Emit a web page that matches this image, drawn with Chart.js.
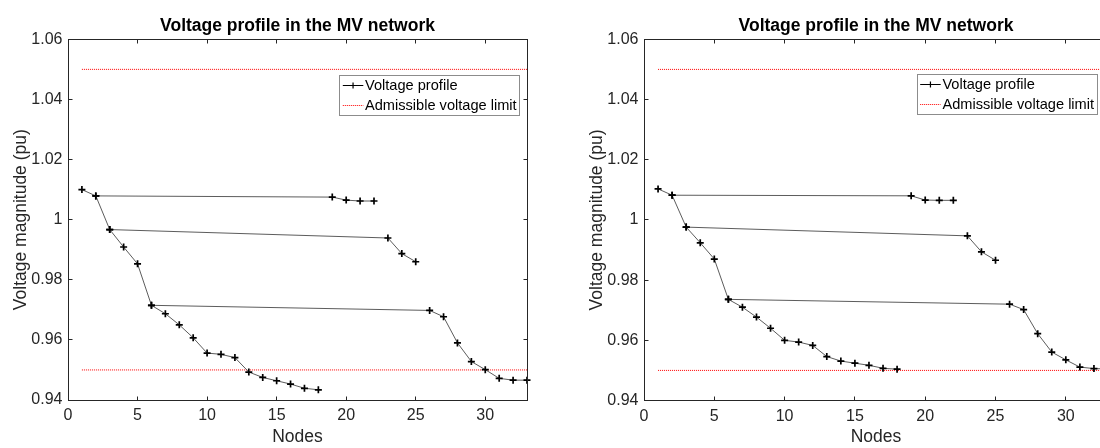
<!DOCTYPE html>
<html>
<head>
<meta charset="utf-8">
<script src="https://cdn.jsdelivr.net/npm/chart.js@4.4.1/dist/chart.umd.min.js"></script>
<style>
  html, body { margin: 0; padding: 0; background: #fff; overflow: hidden; width: 1100px; height: 448px; }
  .panel { position: absolute; top: 0; }
  #left { left: 0; }
  #right { left: 576px; }
</style>
</head>
<body>
<div class="panel" id="left"><canvas id="profileA" width="550" height="448"></canvas></div>
<div class="panel" id="right"><canvas id="profileB" width="554" height="448"></canvas></div>
<script>
const nodes = [1, 2, 3, 4, 5, 6, 7, 8, 9, 10, 11, 12, 13, 14, 15, 16, 17, 18,
  19, 20, 21, 22, 23, 24, 25, 26, 27, 28, 29, 30, 31, 32, 33];

// voltage magnitude per node (pu), left and right case
const voltageA = [1.0100, 1.0079, 0.9967, 0.9909, 0.9853, 0.9715, 0.9687, 0.9650, 0.9607,
  0.9556, 0.9552, 0.9541, 0.9493, 0.9475, 0.9464, 0.9453, 0.9439, 0.9434,
  1.0075, 1.0065, 1.0062, 1.0062, 0.9939, 0.9887, 0.9860,
  0.9698, 0.9677, 0.9590, 0.9528, 0.9501, 0.9472, 0.9466, 0.9466];
const voltageB = [1.0103, 1.0082, 0.9976, 0.9924, 0.9870, 0.9736, 0.9710, 0.9677, 0.9640,
  0.9600, 0.9594, 0.9583, 0.9546, 0.9531, 0.9524, 0.9517, 0.9507, 0.9504,
  1.0080, 1.0066, 1.0065, 1.0065, 0.9947, 0.9894, 0.9866,
  0.9720, 0.9702, 0.9622, 0.9561, 0.9535, 0.9511, 0.9506, 0.9505];

// feeder branches, each starting at the node it hangs from
const mainFeeder = [1, 2, 3, 4, 5, 6, 7, 8, 9, 10, 11, 12, 13, 14, 15, 16, 17, 18];
const lateral19 = [2, 19, 20, 21, 22];
const lateral23 = [3, 23, 24, 25];
const lateral26 = [6, 26, 27, 28, 29, 30, 31, 32, 33];

const limitLow = 0.95;
const limitHigh = 1.05;

const xTicks = [0, 5, 10, 15, 20, 25, 30];
const yTicks = [0.94, 0.96, 0.98, 1.0, 1.02, 1.04, 1.06];
const yTickLabels = ["0.94", "0.96", "0.98", "1", "1.02", "1.04", "1.06"];

Chart.defaults.font.family = '"Liberation Sans", Arial, sans-serif';
Chart.defaults.color = "#262626";

const AXIS = "#262626";

// box round the plot with inward ticks on all four sides
const matlabAxes = {
  id: "matlabAxes",
  afterDatasetsDraw(chart) {
    const { ctx, chartArea: a, scales } = chart;
    const L = Math.floor(a.left) + 0.5, R = Math.floor(a.right) + 0.5;
    const T = Math.floor(a.top) + 0.5, B = Math.floor(a.bottom) + 0.5;
    ctx.save();
    ctx.strokeStyle = AXIS;
    ctx.lineWidth = 1;
    ctx.strokeRect(L, T, R - L, B - T);
    ctx.beginPath();
    xTicks.forEach((v) => {
      const px = Math.floor(scales.x.getPixelForValue(v)) + 0.5;
      ctx.moveTo(px, B); ctx.lineTo(px, B - 4);
      ctx.moveTo(px, T); ctx.lineTo(px, T + 4);
    });
    yTicks.forEach((v) => {
      const py = Math.floor(scales.y.getPixelForValue(v)) + 0.5;
      ctx.moveTo(L, py); ctx.lineTo(L + 4, py);
      ctx.moveTo(R, py); ctx.lineTo(R - 4, py);
    });
    ctx.stroke();
    ctx.restore();
  },
};

// legend box inside the plot, top right
const boxLegend = {
  id: "boxLegend",
  afterDraw(chart, args, opts) {
    const { ctx, chartArea: a } = chart;
    const w = 180, h = 40;
    const left = a.right - opts.inset - w;
    const top = a.top + opts.top;
    const seen = new Set();
    const items = chart.data.datasets.filter((d) => {
      if (seen.has(d.label)) return false;
      seen.add(d.label);
      return true;
    });
    ctx.save();
    ctx.fillStyle = "#fff";
    ctx.fillRect(left, top, w, h);
    ctx.strokeStyle = "#8c8c8c";
    ctx.lineWidth = 1;
    ctx.strokeRect(Math.round(left) + 0.5, Math.round(top) + 0.5, w, h);
    ctx.font = '14.6px "Liberation Sans", Arial, sans-serif';
    ctx.textBaseline = "middle";
    ctx.fillStyle = "#000";
    items.forEach((d, i) => {
      const y = Math.round(top + 10 + i * 19.5) + 0.5;
      const x0 = left + 3.5, x1 = left + 24;
      ctx.beginPath();
      ctx.strokeStyle = d.pointRadius > 0 ? "#000" : d.borderColor;
      ctx.lineWidth = 1;
      ctx.setLineDash(d.borderDash || []);
      ctx.moveTo(x0, y); ctx.lineTo(x1, y);
      ctx.stroke();
      ctx.setLineDash([]);
      if (d.pointRadius > 0) {
        const cx = (x0 + x1) / 2;
        ctx.beginPath();
        ctx.strokeStyle = "#000";
        ctx.lineWidth = 1.2;
        ctx.moveTo(cx - 3, y); ctx.lineTo(cx + 3, y);
        ctx.moveTo(cx, y - 3); ctx.lineTo(cx, y + 3);
        ctx.stroke();
      }
      ctx.fillText(d.label, left + 25.7, y + 0.5);
    });
    ctx.restore();
  },
};

function branchData(branch, volts) {
  return branch.map((n) => ({ x: nodes[n - 1], y: volts[n - 1] }));
}

function limitData(v) {
  return [{ x: nodes[0], y: v }, { x: nodes[nodes.length - 1], y: v }];
}

function buildProfileChart(canvas, volts, layout) {
  const profile = (branch) => ({
    label: "Voltage profile",
    data: branchData(branch, volts),
    borderColor: "#4a4a4a",
    borderWidth: 0.9,
    pointStyle: "cross",
    pointRadius: 3.5,
    pointBorderWidth: 1.7,
    pointBorderColor: "#000",
    pointBackgroundColor: "#000",
    tension: 0,
    clip: false,
  });
  const limit = (v) => ({
    label: "Admissible voltage limit",
    data: limitData(v),
    borderColor: "#ff0000",
    borderWidth: 1,
    borderDash: [1, 1],
    pointRadius: 0,
    tension: 0,
  });

  return new Chart(canvas.getContext("2d"), {
    type: "line",
    data: {
      datasets: [
        profile(mainFeeder), profile(lateral19), profile(lateral23), profile(lateral26),
        limit(limitHigh), limit(limitLow),
      ],
    },
    options: {
      responsive: false,
      animation: false,
      events: [],
      layout: { padding: { left: 0, right: layout.right, top: 0, bottom: 0 } },
      plugins: {
        legend: { display: false },
        tooltip: { enabled: false },
        title: {
          display: true,
          text: "Voltage profile in the MV network",
          color: "#000",
          fullSize: false,
          font: { size: 17.5, weight: "bold" },
          padding: { top: 15.3, bottom: 3 },
        },
        boxLegend: { inset: layout.legendInset, top: layout.legendTop },
      },
      scales: {
        x: {
          type: "linear",
          min: 0,
          max: 33,
          afterBuildTicks: (s) => { s.ticks = xTicks.map((v) => ({ value: v })); },
          afterFit: (s) => { s.height = layout.xHeight; },
          ticks: { font: { size: 16 }, color: AXIS, padding: 6.4, maxRotation: 0, autoSkip: false },
          grid: { display: false, drawTicks: false },
          border: { display: false },
          title: { display: true, text: "Nodes", color: AXIS, font: { size: 17.5 }, padding: { top: 0, bottom: 0 } },
        },
        y: {
          type: "linear",
          min: 0.94,
          max: 1.06,
          afterBuildTicks: (s) => { s.ticks = yTicks.map((v) => ({ value: v })); },
          afterFit: (s) => { s.width = 68; },
          ticks: {
            font: { size: 16 },
            color: AXIS,
            padding: 5.5,
            autoSkip: false,
            callback: (v, i) => yTickLabels[i],
          },
          grid: { display: false, drawTicks: false },
          border: { display: false },
          title: {
            display: true,
            text: "Voltage magnitude (pu)",
            color: AXIS,
            font: { size: 17.5 },
            padding: { top: 11, bottom: 0 },
          },
        },
      },
    },
    plugins: [matlabAxes, boxLegend],
  });
}

buildProfileChart(document.getElementById("profileA"), voltageA,
  { right: 23, xHeight: 48, legendInset: 7.7, legendTop: 35.7 });
buildProfileChart(document.getElementById("profileB"), voltageB,
  { right: 22, xHeight: 47.5, legendInset: 11.3, legendTop: 35 });
</script>
</body>
</html>
